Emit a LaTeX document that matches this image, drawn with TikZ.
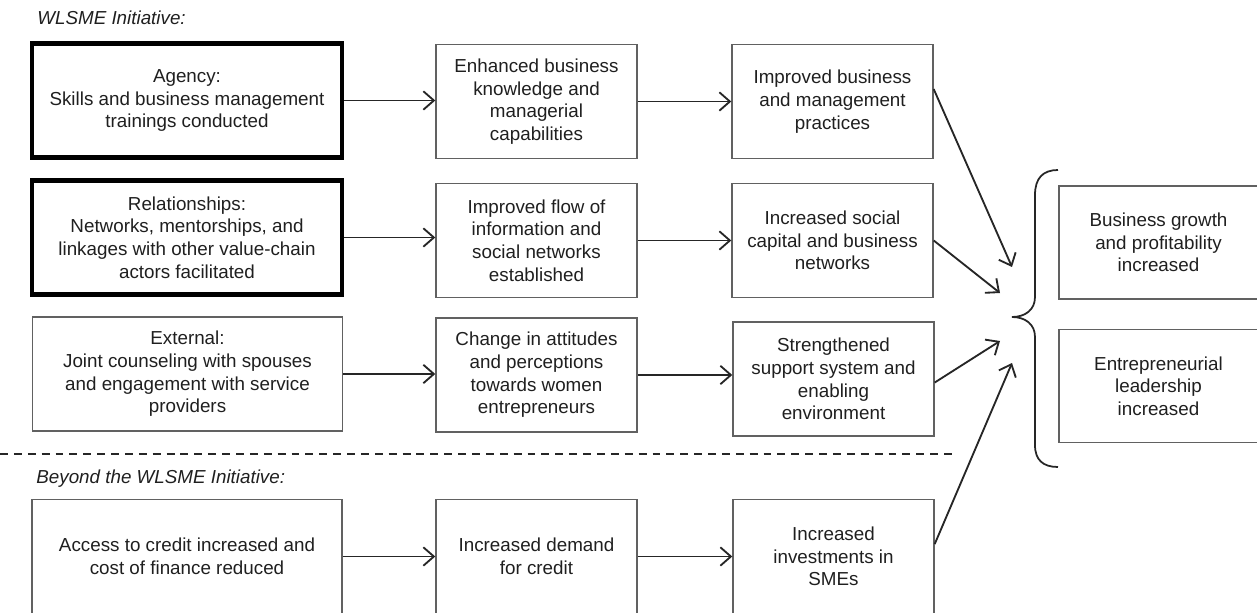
\documentclass[tikz,border=0pt]{standalone}
\usepackage{fontspec}
\setmainfont{Liberation Sans}
\usetikzlibrary{arrows.meta}
\usetikzlibrary{positioning}
\colorlet{boxgray}{black!62}
\colorlet{mytext}{black!88}
\colorlet{myline}{black!85}
\tikzset{
  >={Straight Barb[length=6pt,width=10.5pt]},
  box/.style={draw=boxgray,line width=0.8pt,text=mytext,align=center,inner sep=2pt,
    minimum height=22.8mm,font=\fontsize{10.7}{12.9}\selectfont},
  box main/.style={box,draw=black,line width=2.4pt}, % thick frame for the core components
  box wide/.style={minimum width=62mm},
  box narrow/.style={minimum width=40.2mm},
  box end/.style={box,minimum width=39.8mm,minimum height=22.6mm},
  heading/.style={anchor=west,text=mytext,inner sep=0pt,font=\fontsize{10.7}{12.9}\selectfont\itshape},
  flow/.style={->,myline,line width=1.05pt},
  brace line/.style={myline,line width=1pt},
  sep line/.style={myline,line width=0.9pt,dash pattern=on 4.5pt off 3.4pt}
}

\begin{document}
\begin{tikzpicture}[x=0.2mm,y=-0.2mm]
\useasboundingbox (0,0) rectangle (1257,613);
%
% inside the initiative
\node[heading] (inside) at (37,18) {WLSME Initiative:};
\node[box main,box wide] (agency) at (187,100.5) {Agency:\\Skills and business management\\trainings conducted};
\node[box main,box wide] (relation) at (187,237.5) {Relationships:\\Networks, mentorships, and\\linkages with other value-chain\\actors facilitated};
\node[box,box wide] (external) at (187.5,374) {External:\\Joint counseling with spouses\\and engagement with service\\providers};

\node[box,box narrow] (knowledge) at (536.5,101.5) {Enhanced business\\knowledge and\\managerial\\capabilities};
\node[box,box narrow] (infoflow) at (536.5,240.5) {Improved flow of\\information and\\social networks\\established};
\node[box,box narrow] (attitude) at (536.5,375) {Change in attitudes\\and perceptions\\towards women\\entrepreneurs};

\node[box,box narrow] (practice) at (832.5,101.5) {Improved business\\and management\\practices};
\node[box,box narrow] (capital) at (832.5,240.5) {Increased social\\capital and business\\networks};
\node[box,box narrow] (support) at (833.5,379) {Strengthened\\support system and\\enabling\\environment};
%
% outside the initiative
\draw[sep line] (0,454) -- (957,454);
\node[heading] (outside) at (36,479) {Beyond the WLSME Initiative:};
\node[box,box wide] (credit) at (187,556.5) {Access to credit increased and\\cost of finance reduced};
\node[box,box narrow] (demand) at (536.5,556.5) {Increased demand\\for credit};
\node[box,box narrow] (invest) at (833.5,556.5) {Increased\\investments in\\SMEs};
%
% outcomes
\node[box end] (growth) at (1158.5,242.5) {Business growth\\and profitability\\increased};
\node[box end] (leader) at (1158.5,386) {Entrepreneurial\\leadership\\increased};
\draw[brace line] (1058,170) .. controls (1043,170) and (1035,178) .. (1035,195) -- (1035,297)
  .. controls (1035,310) and (1025,317) .. (1012,317)
  .. controls (1025,317) and (1035,324) .. (1035,337) -- (1035,445)
  .. controls (1035,460) and (1043,467) .. (1058,467);
%
% arrows along the rows
\foreach \A/\B in {agency/knowledge,knowledge/practice,relation/infoflow,infoflow/capital,
  external/attitude,attitude/support,credit/demand,demand/invest}
{\draw[flow] (\A.east) -- (\A.east -| \B.west);}
%
% arrows into the brace
\coordinate (in1) at (1012,267);
\coordinate (in2) at (1000,293);
\coordinate (in3) at (1000,341);
\coordinate (in4) at (1012,363);
\draw[flow] (practice.7) -- (in1);
\draw[flow] (capital.east) -- (in2);
\draw[flow] (support.-2) -- (in3);
\draw[flow] (invest.7) -- (in4);
\end{tikzpicture}
\end{document}
